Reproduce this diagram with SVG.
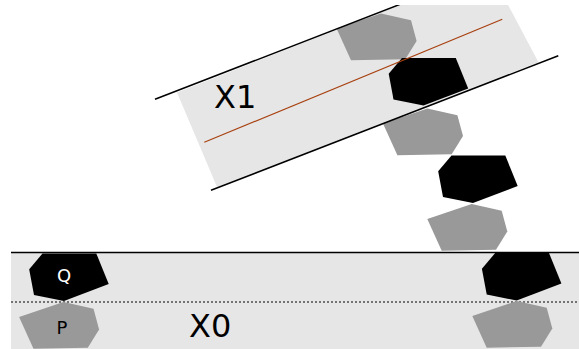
<svg xmlns="http://www.w3.org/2000/svg" xmlns:xlink="http://www.w3.org/1999/xlink" width="579" height="349" viewBox="0 0 579 349">
<style>
.band{fill:#e6e6e6;stroke:none}
.edge{stroke:#000;stroke-width:1.5;fill:none}
.dot{stroke:#000;stroke-width:1;stroke-dasharray:2 2;fill:none}
.axis{stroke:#a8400f;stroke-width:1.2;fill:none}
.blk{fill:#000}
.gry{fill:#999}
.big{font-family:"DejaVu Sans",sans-serif;font-size:32px;fill:#000}
.small{font-family:"DejaVu Sans",sans-serif;font-size:18px;text-anchor:middle}
</style>
<defs>
<clipPath id="clip"><rect x="11" y="5" width="568" height="344"/></clipPath>
<polygon id="hexB" points="-21.5,-47.5 32.3,-47.5 44.7,-17 0,0 -30,-6 -34.8,-31.8"/>
<polygon id="hexG" points="0,0 30,6.7 35.6,27.4 24.3,45.7 -30,46.7 -44.4,15"/>
</defs>
<g clip-path="url(#clip)">
<g id="bands">
<rect id="band-X0" class="band" x="11" y="252.5" width="568" height="97"/>
<polygon id="band-X1" class="band" points="177,92.5 217,187 538.5,62.3 489.4,-30.3"/>
<line class="dot" x1="11" y1="302" x2="579" y2="302"/>
</g>
<g id="nodes">
<g id="Q"><use href="#hexB" class="blk" transform="translate(64,301)"/><text class="small" x="64" y="282" fill="#fff">Q</text></g>
<g id="P"><use href="#hexG" class="gry" transform="translate(63.5,302)"/><text class="small" x="62" y="333.5" fill="#000">P</text></g>
<g id="g1"><use href="#hexG" class="gry" transform="translate(381,13.5)"/></g>
<g id="b2"><use href="#hexB" class="blk" transform="translate(423.5,105.5)"/></g>
<g id="g3"><use href="#hexG" class="gry" transform="translate(427.4,108.5)"/></g>
<g id="b4"><use href="#hexB" class="blk" transform="translate(473,203)"/></g>
<g id="g5"><use href="#hexG" class="gry" transform="translate(471.7,204)"/></g>
<g id="b6"><use href="#hexB" class="blk" transform="translate(516.7,300.5)"/></g>
<g id="g7"><use href="#hexG" class="gry" transform="translate(516.7,301)"/></g>
</g>
<g id="connectors">
<line class="edge" x1="11" y1="252.5" x2="579" y2="252.5"/>
<line class="edge" x1="155" y1="99.3" x2="420" y2="-3.4"/>
<line class="edge" x1="211" y1="190.3" x2="558.3" y2="55.7"/>
<line class="axis" x1="204.3" y1="142.3" x2="502.3" y2="19.3"/>
</g>
<g id="labels">
<text class="big" x="214" y="108.3">X1</text>
<text class="big" x="189" y="336.5">X0</text>
</g>
</g>
</svg>
